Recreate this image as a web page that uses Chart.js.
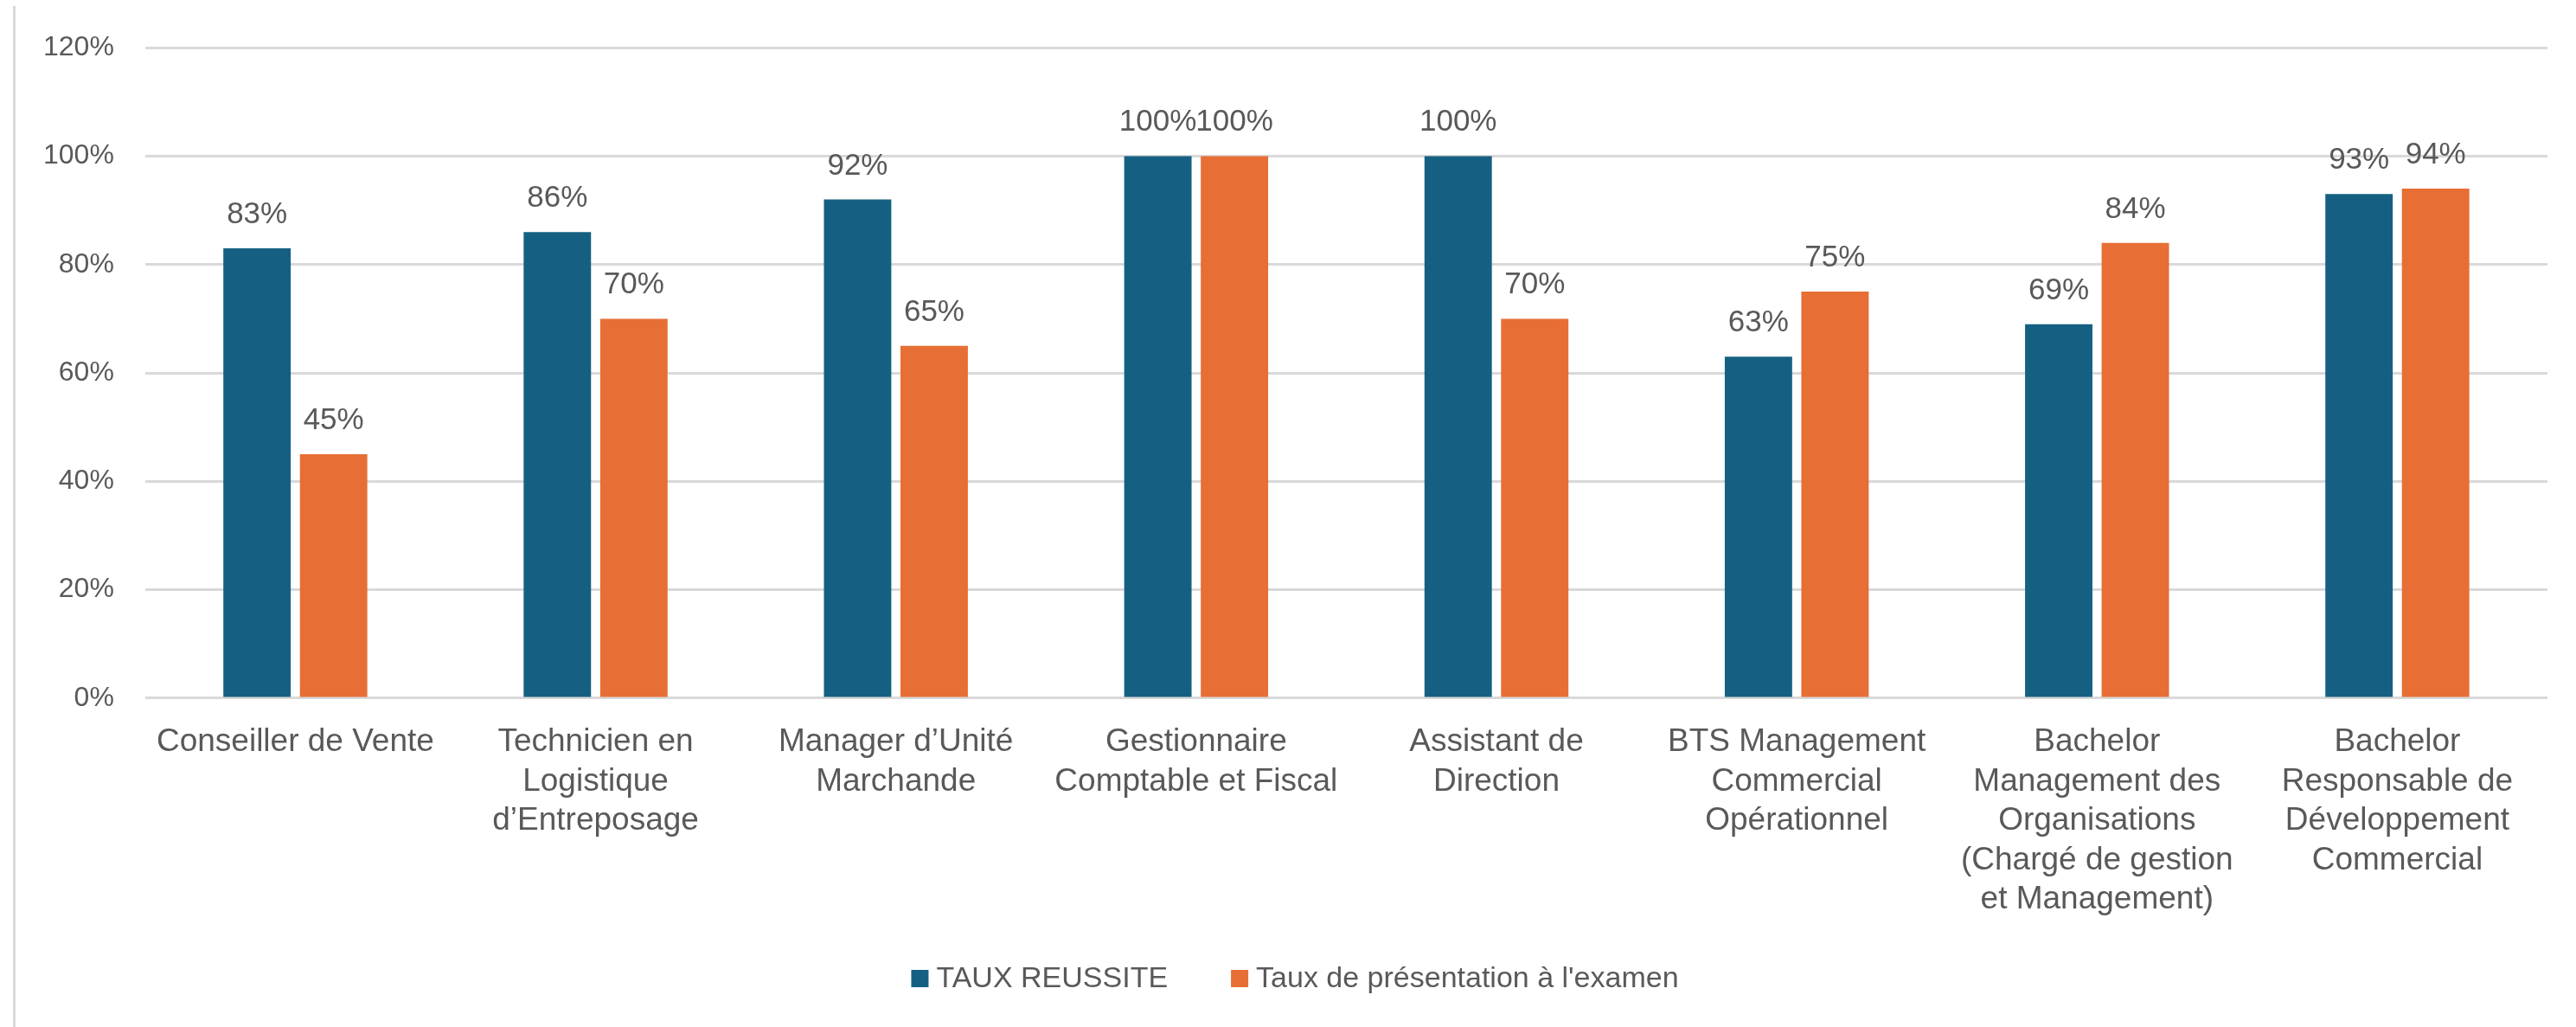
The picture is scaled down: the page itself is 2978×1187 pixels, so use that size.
<!DOCTYPE html>
<html>
<head>
<meta charset="utf-8">
<script src="https://cdn.jsdelivr.net/npm/chart.js@4.4.1/dist/chart.umd.min.js"></script>
<style>
  html, body { margin: 0; padding: 0; background: #fff; }
  #wrap { position: relative; width: 2978px; height: 1187px; }
  #frame { position: absolute; left: 15px; top: 7px; bottom: 0; width: 3px; background: #d9d9d9; }
  canvas { position: absolute; left: 0; top: 0; }
</style>
</head>
<body>
<div id="wrap">
  <div id="frame"></div>
  <canvas id="chart" width="2978" height="1187"></canvas>
</div>
<script>
// catégories (libellés sur plusieurs lignes comme dans Excel)
const categories = [
  ['Conseiller de Vente'],
  ['Technicien en', 'Logistique', 'd’Entreposage'],
  ['Manager d’Unité', 'Marchande'],
  ['Gestionnaire', 'Comptable et Fiscal'],
  ['Assistant de', 'Direction'],
  ['BTS Management', 'Commercial', 'Opérationnel'],
  ['Bachelor', 'Management des', 'Organisations', '(Chargé de gestion', 'et Management)'],
  ['Bachelor', 'Responsable de', 'Développement', 'Commercial']
];
const seriesNames = ['TAUX REUSSITE', 'Taux de présentation à l\'examen'];
const tauxReussite     = [83, 86, 92, 100, 100, 63, 69, 93];
const tauxPresentation = [45, 70, 65, 100, 70, 75, 84, 94];
const yMin = 0, yMax = 120, yStep = 20;

const FONT = '"Liberation Sans", Arial, sans-serif';
const GREY = '#595959';

// étiquettes de valeur au-dessus des barres
const valueLabels = {
  id: 'valueLabels',
  afterDatasetsDraw(chart){
    const ctx = chart.ctx;
    ctx.save();
    ctx.font = `35px ${FONT}`;
    ctx.fillStyle = GREY;
    ctx.textAlign = 'center';
    ctx.textBaseline = 'alphabetic';
    chart.data.datasets.forEach((ds, i) => {
      chart.getDatasetMeta(i).data.forEach((bar, j) => {
        ctx.fillText(`${ds.data[j]}%`, bar.x, bar.y - 29);
      });
    });
    ctx.restore();
  }
};

// légende en bas, espacée comme dans Excel
const legendBas = {
  id: 'legendBas',
  afterDraw(chart){
    const ctx = chart.ctx;
    const box = 20, gapText = 9, gapItem = 73, cy = 1131;
    ctx.save();
    ctx.font = `34px ${FONT}`;
    const items = chart.data.datasets.map(ds => ({ text: ds.label, color: ds.backgroundColor, w: ctx.measureText(ds.label).width }));
    const total = items.reduce((s, it) => s + box + gapText + it.w, 0) + gapItem * (items.length - 1);
    let x = chart.width / 2 + 8 - total / 2;
    ctx.textBaseline = 'middle';
    items.forEach(it => {
      ctx.fillStyle = it.color;
      ctx.fillRect(x, cy - box / 2, box, box);
      x += box + gapText;
      ctx.fillStyle = GREY;
      ctx.fillText(it.text, x, cy + 1);
      x += it.w + gapItem;
    });
    ctx.restore();
  }
};

new Chart(document.getElementById('chart'), {
  type: 'bar',
  data: {
    labels: categories,
    datasets: [
      { label: seriesNames[0], data: tauxReussite, backgroundColor: '#156082' },
      { label: seriesNames[1], data: tauxPresentation, backgroundColor: '#E76E34' }
    ]
  },
  options: {
    responsive: false,
    animation: false,
    devicePixelRatio: 1,
    categoryPercentage: 0.51,
    barPercentage: 0.88,
    layout: { padding: { left: 14, right: 33, top: 40, bottom: 96 } },
    plugins: {
      legend: { display: false },
      tooltip: { enabled: false }
    },
    scales: {
      x: {
        grid: { display: false, drawTicks: false },
        border: { display: false },
        ticks: { color: GREY, padding: 28, maxRotation: 0, autoSkip: false, font: { family: FONT, size: 37, lineHeight: 1.233 } }
      },
      y: {
        min: yMin, max: yMax,
        grid: { color: '#d9d9d9', lineWidth: 3, drawTicks: false },
        border: { display: false },
        ticks: { stepSize: yStep, padding: 36, color: GREY, font: { family: FONT, size: 32 }, callback: v => `${v}%` }
      }
    }
  },
  plugins: [valueLabels, legendBas]
});
</script>
</body>
</html>
